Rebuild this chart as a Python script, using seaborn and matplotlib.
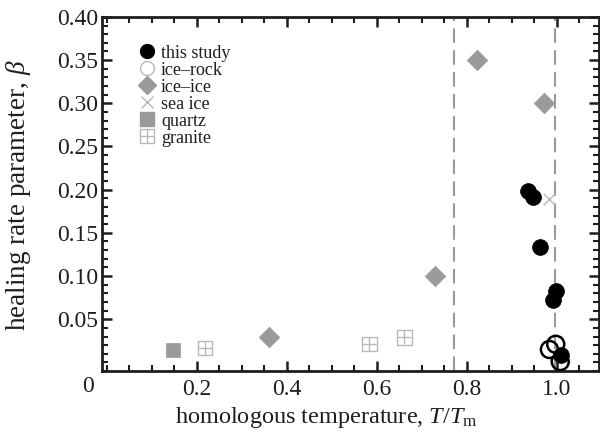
import numpy as np
import pandas as pd
import matplotlib
matplotlib.use("Agg")
import matplotlib.pyplot as plt
from matplotlib.lines import Line2D
from matplotlib.legend_handler import HandlerTuple
from matplotlib.ticker import MultipleLocator, FixedLocator
import seaborn as sns

# ---- data ----
study_x = [0.936, 0.947, 0.962, 0.999, 0.992, 1.010]
study_y = [0.199, 0.192, 0.134, 0.083, 0.072, 0.009]
icerock_x = [0.998, 0.984, 1.008]
icerock_y = [0.021, 0.015, 0.001]
iceice_x = [0.36, 0.73, 0.824, 0.971]
iceice_y = [0.030, 0.100, 0.350, 0.300]
seaice_x = [0.984]
seaice_y = [0.189]
quartz_x = [0.147]
quartz_y = [0.0145]
granite_x = [0.219, 0.584, 0.662]
granite_y = [0.0165, 0.0215, 0.029]
vlines_x = [0.772, 0.996]
xticks = [0.2, 0.4, 0.6, 0.8, 1.0]
xtick_labels = ["0.2", "0.4", "0.6", "0.8", "1.0"]
yticks = [0.05, 0.10, 0.15, 0.20, 0.25, 0.30, 0.35, 0.40]
ytick_labels = ["0.05", "0.10", "0.15", "0.20", "0.25", "0.30", "0.35", "0.40"]

sns.set_theme(style="ticks")
plt.rcParams['font.family'] = ['Liberation Serif', 'DejaVu Serif']
plt.rcParams['mathtext.fontset'] = 'custom'
plt.rcParams['mathtext.rm'] = 'Liberation Serif'
plt.rcParams['mathtext.it'] = 'Liberation Serif:italic'

fig = plt.figure(figsize=(6.0, 4.33), dpi=100)
ax = fig.add_axes([0.17, 0.143, 0.829, 0.818])

GRAY = "#9a9a9a"
LIGHT = "#b8b8b8"
INK = "#1e1e1e"

for xv in vlines_x:
    ax.axvline(xv, color=GRAY, lw=1.5, ls=(0, (7, 3.5)), zorder=1)

def df(x, y):
    return pd.DataFrame({"x": x, "y": y})

sns.scatterplot(data=df(iceice_x, iceice_y), x="x", y="y", ax=ax, marker="D",
                s=110, color=GRAY, edgecolor=GRAY, linewidth=0.5, legend=False, zorder=3)
sns.scatterplot(data=df(quartz_x, quartz_y), x="x", y="y", ax=ax, marker="s",
                s=110, color=GRAY, edgecolor=GRAY, linewidth=0.5, legend=False, zorder=3)
sns.scatterplot(data=df(granite_x, granite_y), x="x", y="y", ax=ax, marker="s",
                s=110, facecolor="none", edgecolor=LIGHT, linewidth=1.0, legend=False, zorder=3)
sns.scatterplot(data=df(granite_x, granite_y), x="x", y="y", ax=ax, marker="+",
                s=110, color=LIGHT, linewidth=1.0, legend=False, zorder=3)
sns.scatterplot(data=df(seaice_x, seaice_y), x="x", y="y", ax=ax, marker="x",
                s=70, color=LIGHT, linewidth=1.0, legend=False, zorder=3)
sns.scatterplot(data=df(study_x, study_y), x="x", y="y", ax=ax, marker="o",
                s=130, color="black", edgecolor="black", linewidth=0.5, legend=False, zorder=4)
sns.scatterplot(data=df(icerock_x, icerock_y), x="x", y="y", ax=ax, marker="o",
                s=150, facecolor="none", edgecolor="black", linewidth=1.8, legend=False, zorder=5)

ax.set_xlim(-0.01, 1.095)
ax.set_ylim(-0.01, 0.40)

ax.xaxis.set_major_locator(FixedLocator(xticks))
ax.set_xticklabels(xtick_labels)
ax.xaxis.set_minor_locator(MultipleLocator(0.05))
ax.yaxis.set_major_locator(FixedLocator(yticks))
ax.set_yticklabels(ytick_labels)
ax.yaxis.set_minor_locator(MultipleLocator(0.01))

ax.tick_params(which="both", direction="in", top=True, right=True, colors=INK,
               labelsize=17)
ax.tick_params(axis="x", which="both", pad=6)
ax.tick_params(axis="y", which="both", pad=2.5)
ax.tick_params(which="major", length=7, width=1.8)
ax.tick_params(which="minor", length=4, width=1.5)
for sp in ax.spines.values():
    sp.set_linewidth(2)
    sp.set_color(INK)

ax.set_xlabel(r"homologous temperature, $T$/$T_\mathrm{m}$", fontsize=17.5, color=INK)
ax.xaxis.set_label_coords((326 - 102) / 497.4, -0.097)
ax.set_ylabel(r"healing rate parameter, $\beta$", fontsize=19.5, color=INK)
ax.yaxis.set_label_coords((33 - 102) / 497.4, (371 - 195) / 354.2)
fig.text(88 / 600, 1 - 387 / 433, "0", fontsize=17, color=INK, ha="center", va="center")

handles = [
    Line2D([], [], ls="none", marker="o", ms=10, mfc="black", mec="black"),
    Line2D([], [], ls="none", marker="o", ms=10, mfc="none", mec=LIGHT, mew=1.0),
    Line2D([], [], ls="none", marker="D", ms=9, mfc=GRAY, mec=GRAY),
    Line2D([], [], ls="none", marker="x", ms=9, mec=LIGHT, mew=1.0),
    Line2D([], [], ls="none", marker="s", ms=10, mfc=GRAY, mec=GRAY),
    (Line2D([], [], ls="none", marker="s", ms=10, mfc="none", mec=LIGHT, mew=1.0),
     Line2D([], [], ls="none", marker="+", ms=10, mec=LIGHT, mew=1.0)),
]
labels = ["this study", "ice\u2013rock", "ice\u2013ice", "sea ice", "quartz", "granite"]
leg = ax.legend(handles, labels, loc="upper left", bbox_to_anchor=(0.075, 0.922),
                frameon=False, fontsize=13, handlelength=0.9, handletextpad=0.3,
                labelspacing=0.0, borderaxespad=0, borderpad=0,
                handler_map={tuple: HandlerTuple(ndivide=1, pad=0)})
for t in leg.get_texts():
    t.set_color(INK)

fig.savefig("out.png", dpi=100)
